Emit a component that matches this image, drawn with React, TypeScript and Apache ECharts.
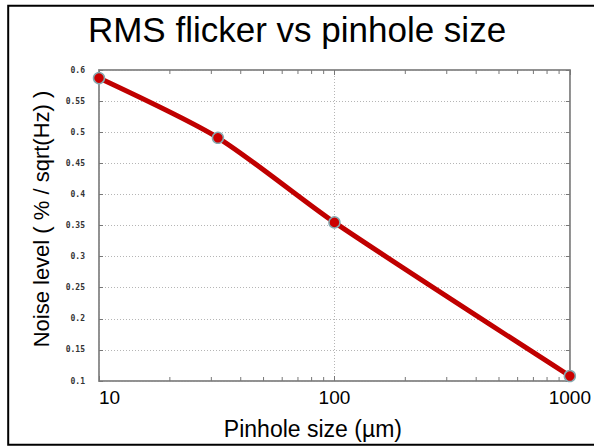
import React, { useEffect, useRef } from "react";
import * as echarts from "echarts";

const titleText = "RMS flicker vs pinhole size";
const xAxisName = "Pinhole size (µm)";
const yAxisName = "Noise level ( % / sqrt(Hz) )";
const pinholeSizes = [10, 32, 100, 1000];
const noiseLevels = [0.587, 0.491, 0.355, 0.108];
const minorTickPositions = [20, 30, 40, 50, 60, 70, 80, 90, 200, 300, 400, 500, 600, 700, 800, 900];
const yMin = 0.1;
const yMax = 0.6;
const yStep = 0.05;

export default function App() {
  const ref = useRef<HTMLDivElement>(null);
  useEffect(() => {
    if (!ref.current) return;
    const chart = echarts.init(ref.current, null, { renderer: "svg" });
    const font = "'Liberation Sans', Arial, sans-serif";
    chart.setOption({
      animation: false,
      backgroundColor: "#ffffff",
      title: {
        text: titleText,
        left: "center",
        top: 12,
        padding: [0, 0, 0, 12],
        textStyle: { fontFamily: font, fontSize: 35, fontWeight: "normal", color: "#000", lineHeight: 35 },
      },
      grid: { left: 99, right: 24, top: 70, bottom: 66, show: true, borderColor: "#8a8a8a", borderWidth: 1.5 },
      xAxis: [
        {
          type: "log",
          logBase: 10,
          min: 10,
          max: 1000,
          name: xAxisName,
          nameLocation: "middle",
          nameGap: 36,
          nameTextStyle: { fontFamily: font, fontSize: 23, color: "#000", padding: [0, 43, 0, 0], lineHeight: 23 },
          axisLine: { show: true, lineStyle: { color: "#8a8a8a", width: 1.5 } },
          axisTick: { show: true, inside: true, length: 5, lineStyle: { color: "#777" } },
          axisLabel: {
            fontFamily: font,
            fontSize: 19,
            color: "#000",
            margin: 7,
            alignMinLabel: "left",
            formatter: (v: number) => String(Math.round(v)),
          },
          splitLine: { show: true, lineStyle: { color: "#b5b5b5", type: [1, 2], width: 1 } },
        },
        {
          type: "log",
          logBase: 10,
          min: 10,
          max: 1000,
          position: "top",
          axisLine: { show: true, lineStyle: { color: "#8a8a8a", width: 1.5 } },
          axisTick: { show: true, inside: true, length: 5, lineStyle: { color: "#777" } },
          axisLabel: { show: false },
          splitLine: { show: false },
        },
      ],
      yAxis: [
        {
          type: "value",
          min: yMin,
          max: yMax,
          interval: yStep,
          name: yAxisName,
          nameLocation: "middle",
          nameGap: 47,
          nameTextStyle: { fontFamily: font, fontSize: 22, color: "#000", padding: [0, 0, 0, 13], lineHeight: 22 },
          axisLine: { show: true, lineStyle: { color: "#8a8a8a", width: 1.5 } },
          axisTick: { show: true, inside: true, length: 4, lineStyle: { color: "#777" } },
          axisLabel: { fontFamily: "'DejaVu Sans Mono', monospace", fontSize: 8, fontWeight: "bold", color: "#333", margin: 14 },
          splitLine: { show: true, lineStyle: { color: "#b5b5b5", type: [1, 2], width: 1 } },
        },
        {
          type: "value",
          min: yMin,
          max: yMax,
          interval: yStep,
          position: "right",
          axisLine: { show: true, lineStyle: { color: "#8a8a8a", width: 1.5 } },
          axisTick: { show: true, inside: true, length: 4, lineStyle: { color: "#777" } },
          axisLabel: { show: false },
          splitLine: { show: false },
        },
      ],
      series: [
        {
          type: "custom",
          xAxisIndex: 0,
          yAxisIndex: 0,
          silent: true,
          data: minorTickPositions.map((v) => [v, yMin]),
          renderItem: (params: any, api: any) => {
            const x = api.value(0);
            const pb = api.coord([x, yMin]);
            const pt = api.coord([x, yMax]);
            const st = { stroke: "#777", lineWidth: 1 };
            return {
              type: "group",
              children: [
                { type: "line", shape: { x1: pb[0], y1: pb[1], x2: pb[0], y2: pb[1] - 4 }, style: st },
                { type: "line", shape: { x1: pt[0], y1: pt[1], x2: pt[0], y2: pt[1] + 4 }, style: st },
              ],
            };
          },
        },
        {
          type: "line",
          data: pinholeSizes.map((x, i) => [x, noiseLevels[i]]),
          smooth: 0.25,
          symbol: "circle",
          symbolSize: 11,
          lineStyle: { color: "#c00000", width: 5 },
          itemStyle: { color: "#cc0000", borderColor: "#86a9b0", borderWidth: 1.5 },
          z: 5,
        },
      ],
      graphic: [
        {
          type: "rect",
          shape: { x: 8.2, y: 5.8, width: 600, height: 439 },
          style: { fill: "none", stroke: "#000", lineWidth: 2 },
          silent: true,
        },
      ],
    });
    return () => chart.dispose();
  }, []);
  return <div ref={ref} style={{ position: "absolute", left: 0, top: 0, width: 594, height: 447 }} />;
}
